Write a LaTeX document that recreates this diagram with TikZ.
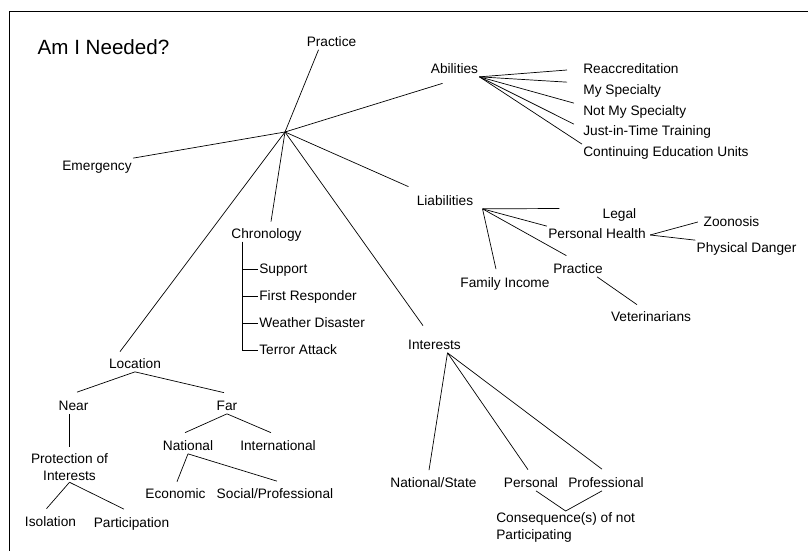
\documentclass[tikz,border=0pt]{standalone}
\usepackage{fontspec}
\setmainfont{Liberation Sans}

\begin{document}
\begin{tikzpicture}[x=1pt, y=-1pt, line width=0.7pt,
   lab/.style={inner sep=1pt, font=\fontsize{13.7}{17}\selectfont, text height=11.4pt, text depth=1.6pt},
   lab2/.style={inner sep=1pt, font=\fontsize{13.7}{17.5}\selectfont}]
\useasboundingbox (0,0) rectangle (808,551);
\draw[line width=1pt] (9,551) -- (9,12) -- (808,12);
\node[inner sep=0pt, font=\fontsize{20.6}{24}\selectfont] (ttl) at (103.5,47.5) {Am I Needed?};
\coordinate (hub) at (285,132);
\node[lab] (prac) at (331.5,42) {Practice};
\node[lab] (abil) at (454.5,69) {Abilities};
\node[lab] (emer) at (97,166) {Emergency};
\node[lab, anchor=west] (reac) at (582,69) {Reaccreditation};
\node[lab, anchor=west] (myspec) at (582,90) {My Specialty};
\node[lab, anchor=west] (notmy) at (582,111) {Not My Specialty};
\node[lab, anchor=west] (jit) at (582,131) {Just-in-Time Training};
\node[lab, anchor=west] (ceu) at (582,152) {Continuing Education Units};
\node[lab] (liab) at (445,201) {Liabilities};
\node[lab] (legal) at (619.5,214) {Legal};
\node[lab] (phealth) at (597,234) {Personal Health};
\node[lab] (zoon) at (731.5,222) {Zoonosis};
\node[lab] (phys) at (746.5,248) {Physical Danger};
\node[lab] (lprac) at (578,269) {Practice};
\node[lab] (vet) at (651,317) {Veterinarians};
\node[lab] (famin) at (505,283) {Family Income};
\node[lab] (chron) at (266.5,234) {Chronology};
\node[lab, anchor=west] (supp) at (258,269) {Support};
\node[lab, anchor=west] (first) at (258,296) {First Responder};
\node[lab, anchor=west] (weather) at (258,323) {Weather Disaster};
\node[lab, anchor=west] (terror) at (258,350) {Terror Attack};
\node[lab] (inter) at (434.5,345) {Interests};
\node[lab] (loc) at (135,364) {Location};
\node[lab] (near) at (73.5,406) {Near};
\node[lab] (far) at (227,406) {Far};
\node[lab2, align=center, anchor=north] (prot) at (69.5,452) {Protection of\\Interests};
\node[lab] (iso) at (50.5,522) {Isolation};
\node[lab] (part) at (131.5,523) {Participation};
\node[lab] (natl) at (188,446) {National};
\node[lab] (intl) at (278,446) {International};
\node[lab] (econ) at (175.5,494) {Economic};
\node[lab] (socp) at (275,494) {Social/Professional};
\node[lab] (natst) at (433.5,483) {National/State};
\node[lab] (pers) at (531,483) {Personal};
\node[lab] (prof) at (606,483) {Professional};
\node[lab2, align=left, anchor=north west] (cons) at (495,511) {Consequence(s) of not\\Participating};
\draw (hub) -- ([shift={(-13,0)}]prac.south);
\draw (hub) -- ([shift={(13,6.5)}]abil.south west);
\draw (hub) -- (emer.north east);
\draw (hub) -- ([shift={(-7,-6.5)}]liab.north west);
\draw (hub) -- ([shift={(4.5,-4.5)}]chron.north);
\draw (hub) -- ([shift={(-11.5,-11.5)}]inter.north);
\draw (hub) -- ([shift={(-15,-4.5)}]loc.north);
\draw (abil.south east) edge ([shift={(-15,1)}]reac.west)
   edge ([shift={(-15,0)}]myspec.north west) edge ([shift={(-8,0)}]notmy.north west)
   edge ([shift={(-8,1)}]jit.north west) edge (ceu.north west);
\draw ([shift={(8,0)}]liab.south east) edge ([shift={(-42,-5.5)}]legal.west)
   edge (phealth.north west) edge ([shift={(14.5,-5.5)}]lprac.north west)
   edge ([shift={(-9,-6)}]famin.north);
\draw ([shift={(3,1)}]phealth.east) edge ([shift={(-4.5,0)}]zoon.west) edge (phys.north west);
\draw ([shift={(-7,0)}]lprac.south east) -- ([shift={(-14,-4.5)}]vet.north);
\foreach \n in {supp,first,weather,terror}
   \draw ([shift={(12.5,0)}]chron.south west) |- (\n.west);
\draw (loc.south) edge ([shift={(3.5,-6)}]near.north) edge ([shift={(-3,-5.5)}]far.north);
\draw (prot.north |- near.south) -- ([shift={(0,-5)}]prot.north);
\draw (prot.south) edge ([shift={(-4,-5.5)}]iso.north) edge ([shift={(-7.5,-6)}]part.north);
\draw (far.south) edge ([shift={(-3,-5.5)}]natl.north) edge ([shift={(-7,-5.5)}]intl.north);
\draw (natl.south) edge ([shift={(1.5,-4.5)}]econ.north) edge ([shift={(2,-5)}]socp.north);
\draw ([shift={(13,0)}]inter.south) edge ([shift={(-4.5,-5)}]natst.north)
   edge ([shift={(-3,-5.5)}]pers.north) edge ([shift={(-4,-6)}]prof.north);
\draw ([shift={(5,0)}]pers.south) -- (cons.north) -- ([shift={(-4,0)}]prof.south);
\end{tikzpicture}
\end{document}
